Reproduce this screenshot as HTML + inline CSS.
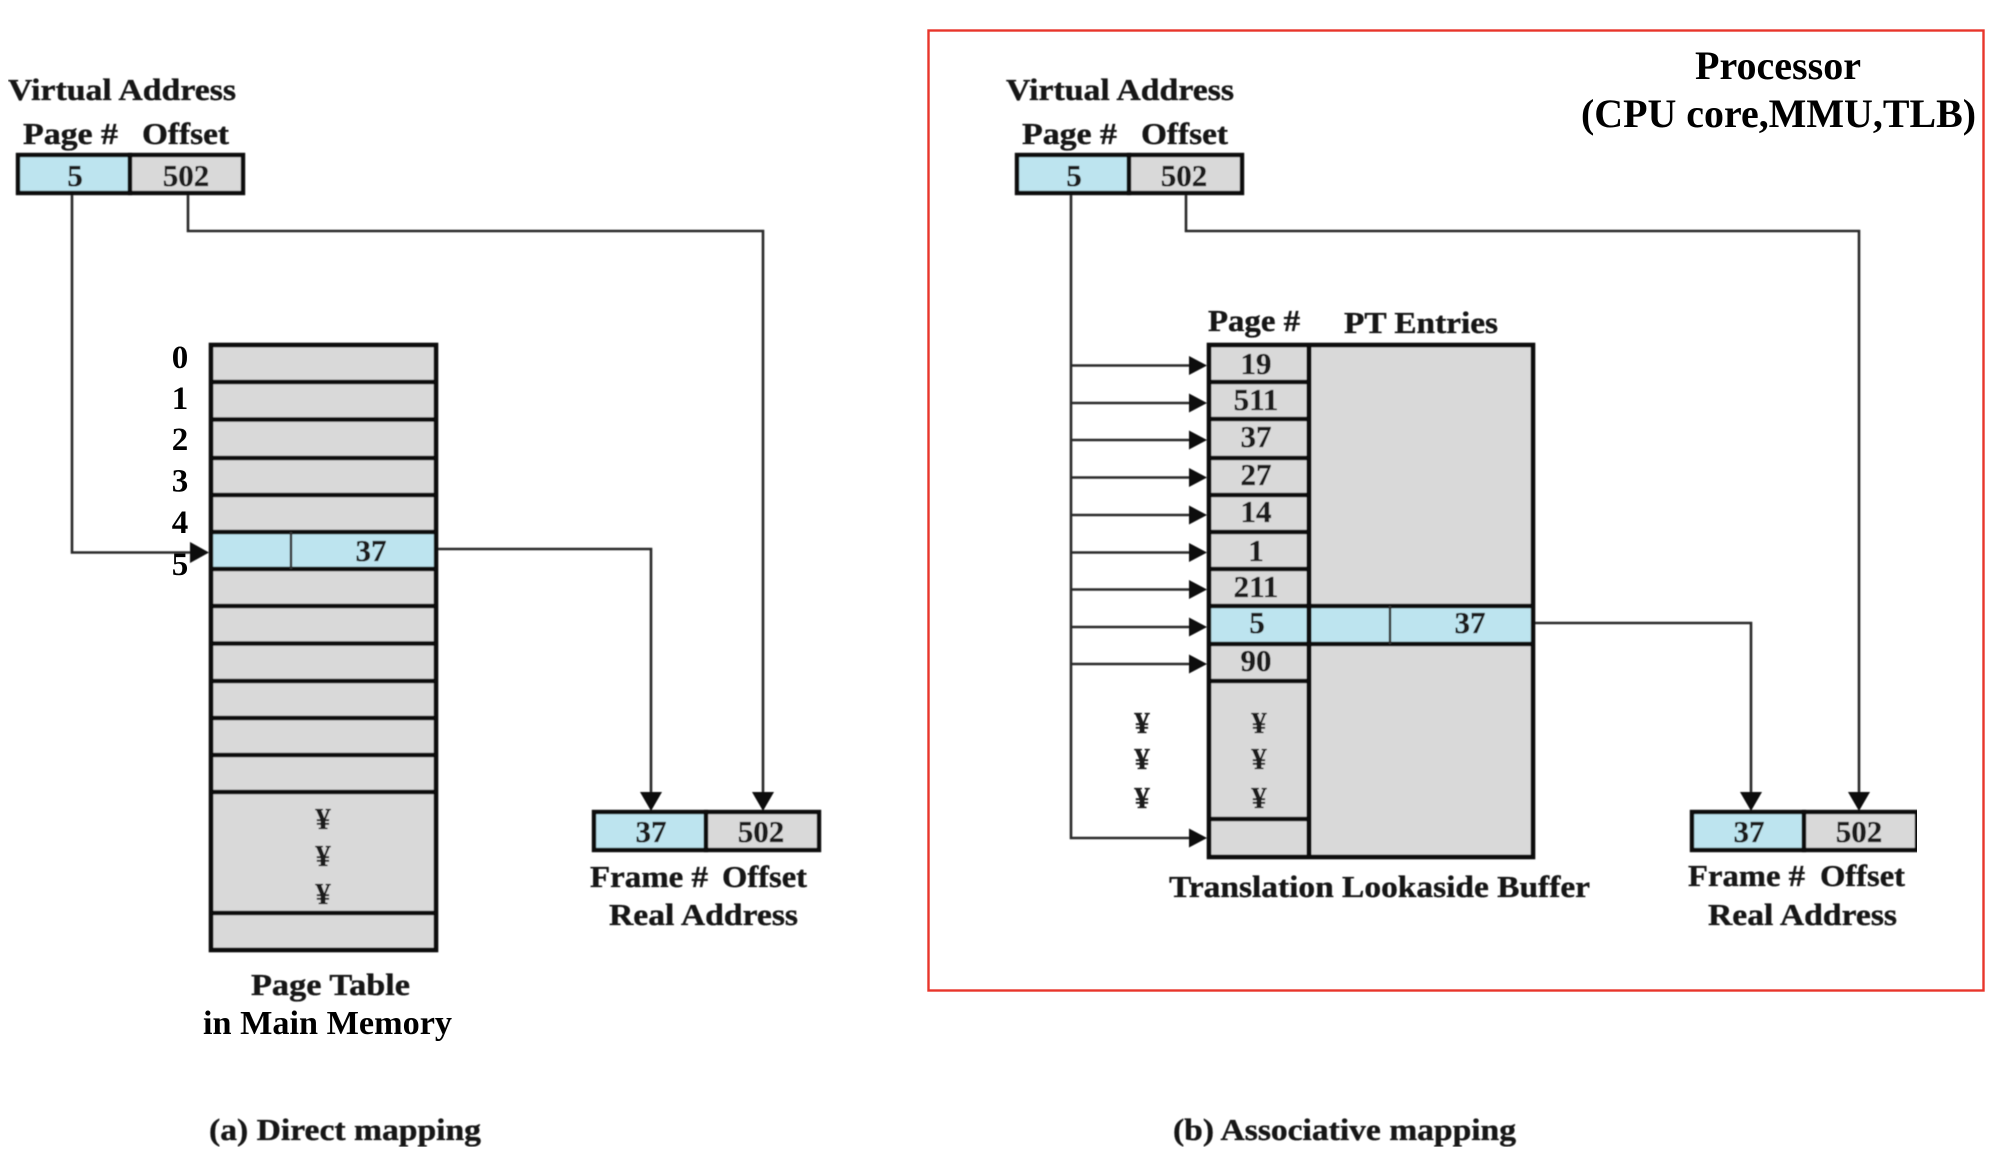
<!DOCTYPE html>
<html>
<head>
<meta charset="utf-8">
<style>
html,body{margin:0;padding:0;background:#fff;width:2010px;height:1174px;overflow:hidden}
svg{display:block}
text{font-family:"Liberation Serif",serif;font-weight:bold}
.t{font-size:31px;fill:#141414;stroke:#141414;stroke-width:.35}
.n{font-size:31px;fill:#1a1a1a;stroke:#1a1a1a;stroke-width:.35;text-anchor:middle}
.k{fill:#000}
.c{fill:none;stroke:#2b2b2b;stroke-width:2.6}
.b{stroke:#111;stroke-width:4.4}
.gr{fill:#d9d9d9}
.bl{fill:#bde4ef}
.h{fill:#0c0c0c}
</style>
</head>
<body>
<svg width="2010" height="1174" viewBox="0 0 2010 1174" xmlns="http://www.w3.org/2000/svg">
<defs><filter id="s" x="0" y="0" width="100%" height="100%"><feGaussianBlur stdDeviation="0.55"/></filter></defs>

<rect x="928.5" y="30.5" width="1055" height="960" fill="none" stroke="#e8352b" stroke-width="2.4"/>

<g filter="url(#s)">
<!-- LEFT: virtual address -->
<text class="t" x="8" y="100" textLength="228" lengthAdjust="spacingAndGlyphs">Virtual Address</text>
<text class="t" x="23" y="144" textLength="95" lengthAdjust="spacingAndGlyphs">Page #</text>
<text class="t" x="142" y="144" textLength="87" lengthAdjust="spacingAndGlyphs">Offset</text>
<rect x="18" y="155" width="112" height="38" class="bl b"/>
<rect x="130" y="155" width="113" height="38" class="gr b"/>
<text class="n" x="75" y="186">5</text>
<text class="n" x="186" y="186">502</text>

<!-- LEFT connectors -->
<path class="c" d="M72 195V552.5H192"/>
<path class="h" d="M209 552.5L190 542V563Z"/>
<path class="c" d="M188 195V231H763V795"/>
<path class="c" d="M436 549H651V795"/>
<path class="h" d="M651 811L640 792H662Z"/>
<path class="h" d="M763 811L752 792H774Z"/>

<!-- LEFT table -->
<rect x="211" y="345" width="225" height="605" class="gr b"/>
<rect x="211" y="532" width="225" height="37" class="bl"/>
<g class="b">
<line x1="209" x2="438" y1="382" y2="382"/>
<line x1="209" x2="438" y1="419.500" y2="419.500"/>
<line x1="209" x2="438" y1="458" y2="458"/>
<line x1="209" x2="438" y1="495" y2="495"/>
<line x1="209" x2="438" y1="532" y2="532"/>
<line x1="209" x2="438" y1="569" y2="569"/>
<line x1="209" x2="438" y1="606" y2="606"/>
<line x1="209" x2="438" y1="643.500" y2="643.500"/>
<line x1="209" x2="438" y1="681" y2="681"/>
<line x1="209" x2="438" y1="718" y2="718"/>
<line x1="209" x2="438" y1="755" y2="755"/>
<line x1="209" x2="438" y1="792" y2="792"/>
<line x1="209" x2="438" y1="913" y2="913"/>
</g>
<rect x="211" y="345" width="225" height="605" fill="none" class="b"/>
<line x1="291" x2="291" y1="532" y2="569" stroke="#333" stroke-width="2.4"/>
<text class="n" x="371" y="561">37</text>
<text class="n" x="323" y="829">¥</text>
<text class="n" x="323" y="866">¥</text>
<text class="n" x="323" y="904">¥</text>

<!-- LEFT real address -->
<rect x="594" y="812" width="112" height="38" class="bl b"/>
<rect x="706" y="812" width="113" height="38" class="gr b"/>
<text class="n" x="651" y="842">37</text>
<text class="n" x="761" y="842">502</text>
<text class="t" x="590" y="887" textLength="118" lengthAdjust="spacingAndGlyphs">Frame #</text>
<text class="t" x="722" y="887" textLength="85" lengthAdjust="spacingAndGlyphs">Offset</text>
<text class="t" x="609" y="925" textLength="189" lengthAdjust="spacingAndGlyphs">Real Address</text>

<text class="t" x="251" y="995" textLength="159" lengthAdjust="spacingAndGlyphs">Page Table</text>
<text class="t" x="209" y="1140" textLength="272" lengthAdjust="spacingAndGlyphs">(a) Direct mapping</text>

<!-- RIGHT: virtual address -->
<text class="t" x="1006" y="100" textLength="228" lengthAdjust="spacingAndGlyphs">Virtual Address</text>
<text class="t" x="1022" y="144" textLength="95" lengthAdjust="spacingAndGlyphs">Page #</text>
<text class="t" x="1141" y="144" textLength="87" lengthAdjust="spacingAndGlyphs">Offset</text>
<rect x="1017" y="155" width="112" height="38" class="bl b"/>
<rect x="1129" y="155" width="113" height="38" class="gr b"/>
<text class="n" x="1074" y="186">5</text>
<text class="n" x="1184" y="186">502</text>

<!-- RIGHT connectors -->
<path class="c" d="M1071 195V838H1195"/>
<path class="c" d="M1071 365.500H1195M1071 403H1195M1071 440H1195M1071 477.500H1195M1071 515H1195M1071 552.500H1195M1071 589.500H1195M1071 627H1195M1071 664H1195"/>
<path class="h" d="M1207 365.500L1189 356V375ZM1207 403L1189 393.500V412.500ZM1207 440L1189 430.500V449.500ZM1207 477.500L1189 468V487ZM1207 515L1189 505.500V524.500ZM1207 552.500L1189 543V562ZM1207 589.500L1189 580V599ZM1207 627L1189 617.500V636.500ZM1207 664L1189 654.500V673.500ZM1207 838L1189 828.500V847.500Z"/>
<path class="c" d="M1186 195V231H1859V795"/>
<path class="c" d="M1535 623H1751V795"/>
<path class="h" d="M1751 811L1740 792H1762Z"/>
<path class="h" d="M1859 811L1848 792H1870Z"/>

<!-- RIGHT TLB -->
<text class="t" x="1208" y="331" textLength="92" lengthAdjust="spacingAndGlyphs">Page #</text>
<text class="t" x="1344" y="333" textLength="154" lengthAdjust="spacingAndGlyphs">PT Entries</text>
<rect x="1209" y="345" width="324" height="512" class="gr b"/>
<rect x="1209" y="606" width="324" height="38" class="bl"/>
<g class="b">
<line x1="1207" x2="1309" y1="382" y2="382"/>
<line x1="1207" x2="1309" y1="419" y2="419"/>
<line x1="1207" x2="1309" y1="458" y2="458"/>
<line x1="1207" x2="1309" y1="495" y2="495"/>
<line x1="1207" x2="1309" y1="532" y2="532"/>
<line x1="1207" x2="1309" y1="569" y2="569"/>
<line x1="1207" x2="1535" y1="606" y2="606"/>
<line x1="1207" x2="1535" y1="644" y2="644"/>
<line x1="1207" x2="1309" y1="681" y2="681"/>
<line x1="1207" x2="1309" y1="819" y2="819"/>
<line x1="1309" x2="1309" y1="343" y2="859" stroke-width="5"/>
</g>
<rect x="1209" y="345" width="324" height="512" fill="none" class="b"/>
<line x1="1390" x2="1390" y1="606" y2="644" stroke="#333" stroke-width="2.4"/>
<text class="n" x="1256" y="374">19</text>
<text class="n" x="1256" y="410">511</text>
<text class="n" x="1256" y="447">37</text>
<text class="n" x="1256" y="485">27</text>
<text class="n" x="1256" y="522">14</text>
<text class="n" x="1256" y="561">1</text>
<text class="n" x="1256" y="597">211</text>
<text class="n" x="1257" y="633">5</text>
<text class="n" x="1256" y="671">90</text>
<text class="n" x="1470" y="633">37</text>
<text class="n" x="1259" y="733">¥</text>
<text class="n" x="1259" y="769">¥</text>
<text class="n" x="1259" y="808">¥</text>
<text class="n" x="1142" y="733">¥</text>
<text class="n" x="1142" y="769">¥</text>
<text class="n" x="1142" y="808">¥</text>
<text class="t" x="1169" y="897" textLength="421" lengthAdjust="spacingAndGlyphs">Translation Lookaside Buffer</text>

<!-- RIGHT real address -->
<rect x="1692" y="812" width="112" height="38" class="bl b"/>
<rect x="1804" y="812" width="113" height="38" class="gr b"/>
<text class="n" x="1749" y="842">37</text>
<text class="n" x="1859" y="842">502</text>
<text class="t" x="1688" y="886" textLength="117" lengthAdjust="spacingAndGlyphs">Frame #</text>
<text class="t" x="1820" y="886" textLength="85" lengthAdjust="spacingAndGlyphs">Offset</text>
<text class="t" x="1708" y="925" textLength="189" lengthAdjust="spacingAndGlyphs">Real Address</text>

<text class="t" x="1173" y="1140" textLength="343" lengthAdjust="spacingAndGlyphs">(b) Associative mapping</text>
</g>

<!-- crisp labels -->
<text class="k" font-size="33" x="180" y="368" text-anchor="middle">0</text>
<text class="k" font-size="33" x="180" y="409" text-anchor="middle">1</text>
<text class="k" font-size="33" x="180" y="450" text-anchor="middle">2</text>
<text class="k" font-size="33" x="180" y="491.500" text-anchor="middle">3</text>
<text class="k" font-size="33" x="180" y="533" text-anchor="middle">4</text>
<text class="k" font-size="33" x="180" y="575" text-anchor="middle">5</text>
<text class="k" font-size="34" x="203" y="1034" textLength="249" lengthAdjust="spacingAndGlyphs">in Main Memory</text>
<text class="k" font-size="40" x="1695" y="79" textLength="166" lengthAdjust="spacingAndGlyphs">Processor</text>
<text class="k" font-size="40" x="1581" y="127" textLength="395" lengthAdjust="spacingAndGlyphs">(CPU core,MMU,TLB)</text>
</svg>
</body>
</html>
